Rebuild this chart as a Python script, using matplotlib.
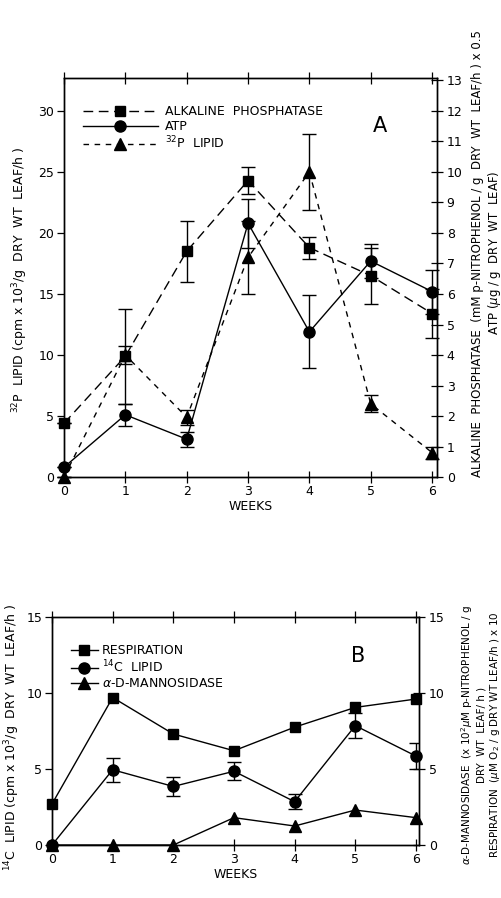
import matplotlib.pyplot as plt
from matplotlib.lines import Line2D
import numpy as np

plt.rcParams['font.family'] = ['DejaVu Sans']
plt.rcParams['font.size'] = 9

weeks = [0, 1, 2, 3, 4, 5, 6]

# panel A, all in left-axis units (right axis = left / 2.5)
alk_phos = [4.4, 9.9, 18.5, 24.3, 18.8, 16.5, 13.4]
alk_phos_err = [0.0, 3.9, 2.5, 1.1, 0.9, 2.3, 2.0]
atp = [0.8, 5.1, 3.1, 20.8, 11.9, 17.7, 15.2]
atp_err = [0.0, 0.9, 0.6, 2.0, 3.0, 1.4, 1.8]
p32_lipid = [0.0, 10.0, 4.9, 18.0, 25.0, 6.0, 2.0]
p32_lipid_err = [0.0, 0.7, 0.6, 3.0, 3.1, 0.7, 0.5]

# panel B
respiration = [2.7, 9.7, 7.3, 6.2, 7.75, 9.05, 9.6]
c14_lipid = [0.0, 4.95, 3.85, 4.85, 2.85, 7.85, 5.85]
c14_lipid_err = [0.0, 0.8, 0.65, 0.6, 0.5, 0.8, 0.85]
mannosidase = [0.0, 0.0, 0.0, 1.8, 1.25, 2.3, 1.8]

fig = plt.figure(figsize=(5.02, 8.98), dpi=100)

def style_axes(ax, ax2):
    ax.tick_params(axis='y', direction='out', length=5, width=0.9, pad=2)
    ax.tick_params(axis='x', direction='inout', length=8, width=0.9, pad=2,
                   top=True, labeltop=False)
    ax2.tick_params(axis='y', direction='inout', length=8, width=0.9, pad=3)
    for a in (ax, ax2):
        for s in a.spines.values():
            s.set_linewidth(1.0)

# ---------------- panel A ----------------
ax = fig.add_axes([0.1275, 0.4688, 0.743, 0.4443])
ax.set_xlim(0, 6.08)
ax.set_ylim(0, 32.7)

ax.plot(weeks, alk_phos, color='k', lw=1, dashes=(7, 4), zorder=2)
ax.plot(weeks, atp, color='k', lw=1, ls='-', zorder=2)
ax.plot(weeks, p32_lipid, color='k', lw=1, dashes=(4, 4), zorder=2)
for vals, err in [(alk_phos, alk_phos_err), (atp, atp_err), (p32_lipid, p32_lipid_err)]:
    ax.errorbar(weeks, vals, yerr=err, fmt='none', ecolor='k', elinewidth=1,
                capsize=5, capthick=1, zorder=2, clip_on=False)
ax.plot(weeks, alk_phos, 's', color='k', ms=7.5, ls='none', zorder=3, clip_on=False)
ax.plot(weeks, atp, 'o', color='k', ms=8, ls='none', zorder=3, clip_on=False)
ax.plot(weeks, p32_lipid, '^', color='k', ms=9, ls='none', zorder=3, clip_on=False)

ax.set_xticks(weeks)
ax.set_yticks([0, 5, 10, 15, 20, 25, 30])
ax.set_xlabel('WEEKS', labelpad=1)
ax2 = ax.twinx()
ax2.set_ylim(0, 32.7 / 2.5)
ax2.set_yticks(range(0, 14))
style_axes(ax, ax2)

handles = [
    Line2D([], [], color='k', lw=1, dashes=(7, 4), marker='s', ms=7.5),
    Line2D([], [], color='k', lw=1, marker='o', ms=8),
    Line2D([], [], color='k', lw=1, dashes=(4, 4), marker='^', ms=9),
]
ax.legend(handles, ['ALKALINE  PHOSPHATASE', 'ATP', '$^{32}$P  LIPID'],
          loc='upper left', bbox_to_anchor=(0.02, 0.96), frameon=False,
          handlelength=6, numpoints=1, labelspacing=0.15, handletextpad=0.6,
          fontsize=9)
ax.text(5.15, 28.8, 'A', fontsize=15, ha='center', va='center')

fig.text(0.040, 0.688, '$^{32}$P  LIPID (cpm x 10$^3$/g  DRY  WT  LEAF/h )',
         rotation=90, ha='center', va='center', fontsize=9)
fig.text(0.970, 0.718,
         'ALKALINE  PHOSPHATASE  (mM p-NITROPHENOL / g  DRY  WT  LEAF/h ) x 0.5\n'
         'ATP ($\\mu$g / g  DRY  WT  LEAF)',
         rotation=90, ha='center', va='center', fontsize=8.5, linespacing=1.1,
         multialignment='center')

# ---------------- panel B ----------------
bx = fig.add_axes([0.1036, 0.059, 0.731, 0.254])
bx.set_xlim(0, 6.05)
bx.set_ylim(0, 15)

bx.plot(weeks, respiration, color='k', lw=1, zorder=2)
bx.plot(weeks, c14_lipid, color='k', lw=1, zorder=2)
bx.plot(weeks, mannosidase, color='k', lw=1, zorder=2)
bx.errorbar(weeks, c14_lipid, yerr=c14_lipid_err, fmt='none', ecolor='k',
            elinewidth=1, capsize=5, capthick=1, zorder=2)
bx.plot(weeks, mannosidase, '^', color='k', ms=9, ls='none', zorder=3, clip_on=False)
bx.plot(weeks, respiration, 's', color='k', ms=7.5, ls='none', zorder=3, clip_on=False)
bx.plot(weeks, c14_lipid, 'o', color='k', ms=8, ls='none', zorder=4, clip_on=False)

bx.set_xticks(weeks)
bx.set_yticks([0, 5, 10, 15])
bx.set_xlabel('WEEKS', labelpad=1)
bx2 = bx.twinx()
bx2.set_ylim(0, 15)
bx2.set_yticks([0, 5, 10, 15])
style_axes(bx, bx2)

handles_b = [
    Line2D([], [], color='k', lw=1, marker='s', ms=7.5),
    Line2D([], [], color='k', lw=1, marker='o', ms=8),
    Line2D([], [], color='k', lw=1, marker='^', ms=9),
]
bx.legend(handles_b, ['RESPIRATION', '$^{14}$C  LIPID', '$\\alpha$-D-MANNOSIDASE'],
          loc='upper left', bbox_to_anchor=(0.02, 0.93), frameon=False,
          handlelength=2.2, numpoints=1, labelspacing=0.15, handletextpad=0.3,
          fontsize=9)
bx.text(5.05, 12.4, 'B', fontsize=15, ha='center', va='center')

fig.text(0.024, 0.179, '$^{14}$C  LIPID (cpm x 10$^3$/g  DRY  WT  LEAF/h )',
         rotation=90, ha='center', va='center', fontsize=9)
fig.text(0.957, 0.182,
         '$\\alpha$-D-MANNOSIDASE  (x 10$^2$$\\mu$M p-NITROPHENOL / g\n'
         'DRY  WT  LEAF/ h )\n'
         'RESPIRATION  ($\\mu$M O$_2$ / g DRY WT LEAF/h ) x 10',
         rotation=90, ha='center', va='center', fontsize=7.5, linespacing=1.15,
         multialignment='center')

fig.savefig('out.png', dpi=100)
